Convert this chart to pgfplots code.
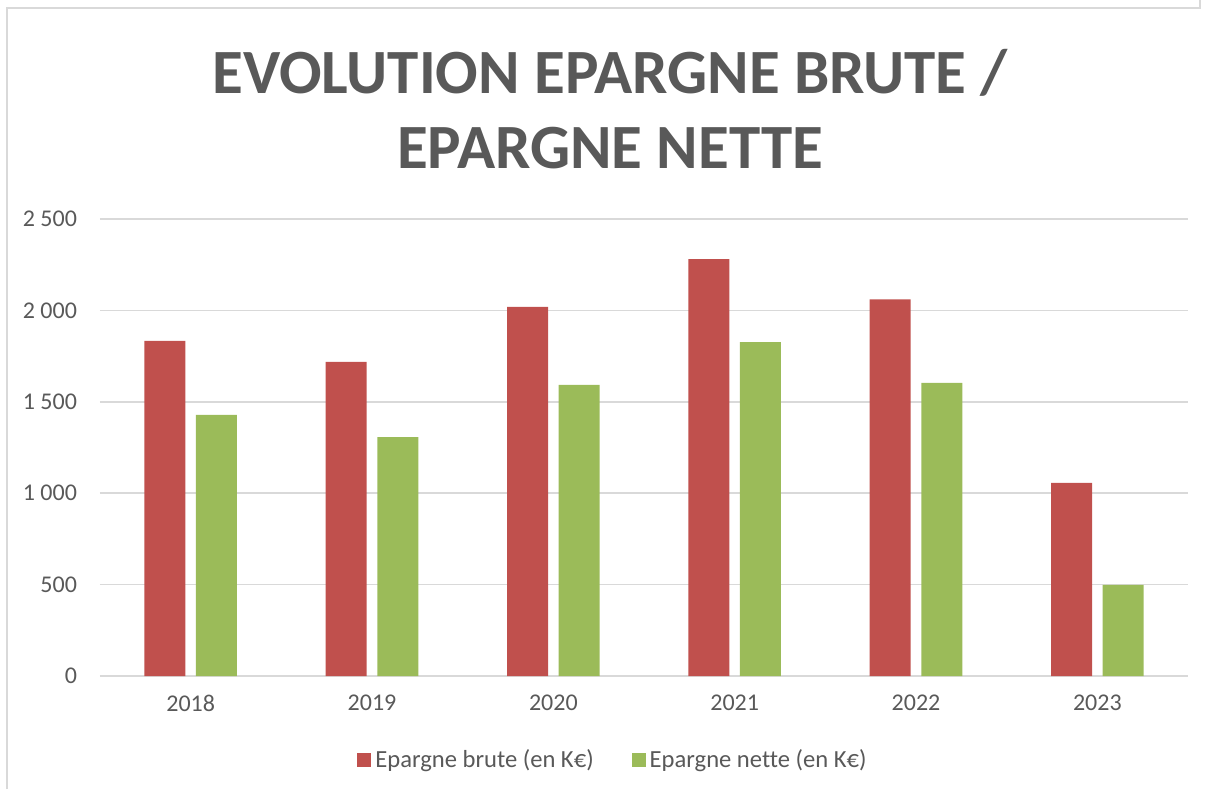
\documentclass[border=0pt]{standalone}
\usepackage{fontspec}
\setmainfont{Carlito}[Ligatures=NoCommon]
\usepackage{pgfplots}
\pgfplotsset{compat=1.18}
\definecolor{brute}{RGB}{192,80,77}
\definecolor{nette}{RGB}{155,187,89}
\definecolor{txtgray}{RGB}{89,89,89}
\definecolor{gridgray}{RGB}{217,217,217}
\begin{document}
\begin{tikzpicture}
\useasboundingbox (0,0) rectangle (605pt,394.5pt);
% cadre du graphique
\draw[gridgray, line width=1pt] (3.5pt,0) -- (3.5pt,390.5pt) -- (600pt,390.5pt) -- (600pt,394.5pt);
\node[txtgray, font=\fontsize{31.5}{37.5}\selectfont\bfseries, align=center]
  at (305pt,339.75pt) {EVOLUTION EPARGNE BRUTE /\\EPARGNE NETTE};
\begin{axis}[
  at={(50pt,56.5pt)}, anchor=south west,
  scale only axis, width=544pt, height=228.5pt,
  ybar, bar width=20.5pt,
  xmin=-0.5, xmax=5.5, ymin=0, ymax=2500,
  xtick={0,...,5},
  xticklabels={2018,2019,2020,2021,2022,2023},
  ytick={0,500,...,2500},
  axis line style={draw=none},
  major tick length=0pt,
  ymajorgrids=true,
  grid style={gridgray, line width=0.75pt},
  /pgf/number format/.cd, 1000 sep={\ }, assume math mode=true,
  /pgfplots/.cd,
  ticklabel style={txtgray, font=\fontsize{12}{14}\selectfont},
  yticklabel style={xshift=-8pt},
  xticklabel style={yshift=-6pt},
  legend style={at={(0.4724,-0.184)}, anchor=center, draw=none,
    font=\fontsize{12.3}{14}\selectfont, text=txtgray,
    /tikz/every even column/.append style={column sep=17pt}},
  legend columns=2,
  legend image code/.code={\fill[#1] (0pt,-3.5pt) rectangle (7pt,3.5pt);},
]
\addplot[fill=brute, draw=none, bar shift=-12.9pt] coordinates {
  (0,1833) (1,1718) (2,2019) (3,2281) (4,2061) (5,1057)
};
\addplot[fill=nette, draw=none, bar shift=12.9pt] coordinates {
  (0,1428) (1,1307) (2,1592) (3,1827) (4,1603) (5,498)
};
\legend{Epargne brute (en K€), Epargne nette (en K€)}
\end{axis}
\end{tikzpicture}
\end{document}
